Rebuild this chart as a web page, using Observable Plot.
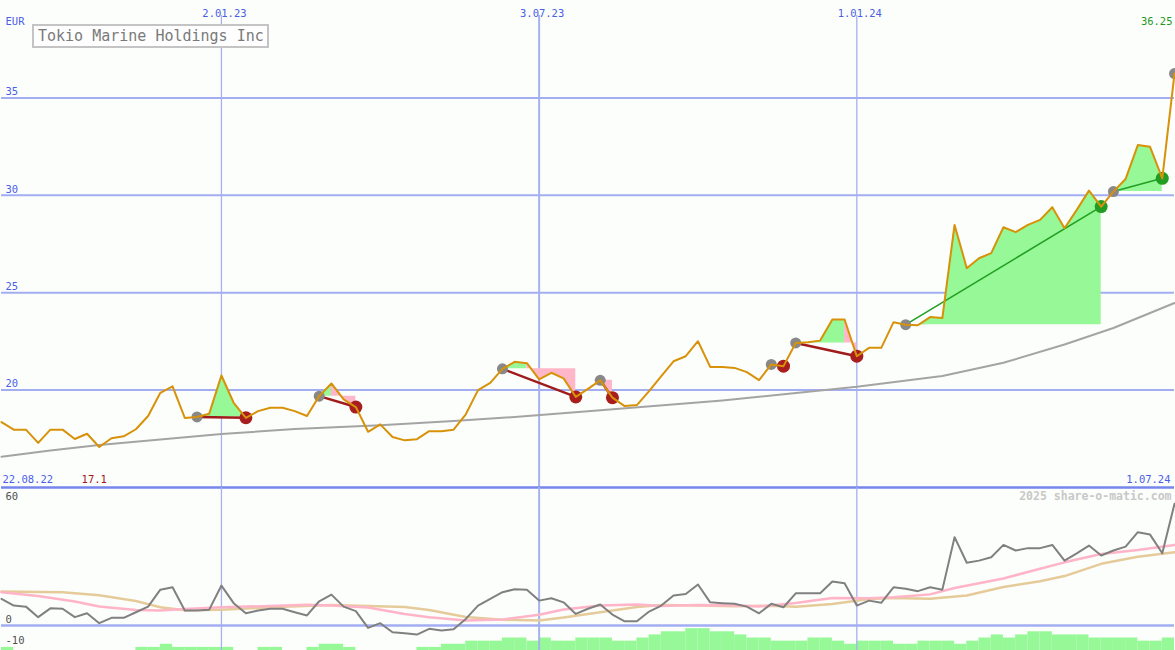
<!DOCTYPE html>
<html><head><meta charset="utf-8">
<script src="https://cdn.jsdelivr.net/npm/d3@7"></script>
<script src="https://cdn.jsdelivr.net/npm/@observablehq/plot@0.6"></script>
<style>
html,body{margin:0;padding:0;background:#fcfefc;}
#chart{position:relative;width:1175px;height:650px;overflow:hidden;background:#fcfefc;}
#chart svg{position:absolute;left:0;overflow:visible;background:transparent;}
#title{position:absolute;left:32px;top:24px;width:237px;height:24px;box-sizing:border-box;border:2px solid #c4c4c4;background:#fdfefd;color:#7a7a7a;font:15px "DejaVu Sans Mono",monospace;line-height:20px;padding-left:4px;white-space:nowrap;}
</style></head><body><div id="chart"></div><script>
// ---- data ----
const titleText = "Tokio Marine Holdings Inc";
const currency = "EUR";
const firstDate = "2022-08-29";
const lastDate = "2024-07-02";
const startLabel = "22.08.22";
const endLabel = "1.07.24";
const gridDates = ["2023-01-02", "2023-07-03", "2024-01-01"];
const gridLabels = ["2.01.23", "3.07.23", "1.01.24"];
const priceTicks = [20, 25, 30, 35];
const lowerTicks = [60, 0, -10];
const lowerTickShift = [0, -6, -6];

// weekly close
const price = [
  18.36, 17.97, 17.97, 17.29, 17.97, 17.97, 17.49, 17.76, 17.08, 17.53,
  17.63, 17.99, 18.67, 19.86, 20.19, 18.57, 18.62, 18.79, 20.75, 19.35,
  18.58, 18.92, 19.09, 19.09, 18.92, 18.67, 19.69, 20.34, 19.52, 19.13,
  17.86, 18.24, 17.59, 17.42, 17.48, 17.89, 17.89, 17.97, 18.76, 20.0,
  20.37, 21.09, 21.45, 21.38, 20.55, 20.89, 20.6, 19.65, 20.06, 20.5,
  19.61, 19.18, 19.23, 19.95, 20.72, 21.48, 21.74, 22.51, 21.19, 21.18,
  21.14, 20.92, 20.51, 21.32, 21.23, 22.42, 22.46, 22.54, 23.62, 23.62,
  21.74, 22.17, 22.17, 23.48, 23.36, 23.33, 23.75, 23.70, 28.48, 26.26,
  26.77, 27.03, 28.36, 28.11, 28.48, 28.74, 29.39, 28.31, 29.25, 30.24,
  29.42, 30.19, 30.84, 32.58, 32.49, 30.87, 36.25
];
// long moving average (week index, value)
const maWeek  = [0, 4, 8, 18, 24, 31, 37, 42, 48, 59, 70, 77, 82, 87, 91, 96];
const maValue = [16.58, 16.9, 17.18, 17.75, 18.0, 18.19, 18.41, 18.62, 18.92, 19.47, 20.17, 20.72, 21.4, 22.34, 23.19, 24.47];

// signals (week indices)
const sigStart = [16, 26, 41, 49, 63, 65, 74, 91];
const sigTurn  = [20, 27, 43, 49, 63, 69, 90, 95];
const sigEnd   = [20, 29, 47, 50, 64, 70, 90, 95];
const openSignal = [96];

// lower panel oscillator
const oscillator = [
  12.4, 9.3, 8.8, 3.9, 8.0, 7.8, 3.9, 5.7, 1.1, 3.6,
  3.6, 6.2, 8.8, 16.7, 17.8, 7.0, 7.0, 7.4, 18.6, 10.4,
  5.7, 7.0, 7.8, 7.8, 6.2, 4.7, 11.3, 14.4, 8.8, 6.7,
  -1.1, 1.1, -3.1, -3.6, -4.2, -1.5, -2.3, -1.7, 3.1, 9.3,
  12.4, 15.5, 16.9, 16.6, 11.6, 12.7, 10.8, 5.4, 7.8, 9.8,
  5.1, 2.0, 2.0, 6.5, 9.3, 14.0, 14.7, 19.1, 10.8, 10.4,
  10.1, 8.8, 5.7, 10.1, 8.5, 15.0, 15.0, 15.0, 20.5, 19.7,
  9.3, 11.6, 10.6, 17.8, 17.1, 16.0, 17.8, 16.7, 41.1, 29.2,
  30.2, 31.8, 37.5, 34.9, 36.0, 36.0, 37.5, 30.2, 33.6, 37.2,
  32.6, 34.9, 36.7, 43.4, 42.3, 33.6, 56.6
];
const pinkWeek  = [0, 3, 6, 8, 11, 13, 15, 18, 22, 25, 27, 30, 33, 35, 38, 41, 44, 46, 49, 52, 54, 57, 60, 62, 65, 68, 71, 73, 76, 78, 82, 85, 87, 90, 93, 96];
const pinkValue = [15.5, 13.7, 11.2, 8.9, 7.2, 7.0, 7.7, 8.5, 9.1, 9.7, 9.3, 8.4, 5.4, 3.9, 2.3, 2.8, 5.0, 7.5, 9.3, 9.8, 9.1, 9.6, 9.3, 8.9, 10.5, 12.8, 12.7, 13.2, 14.5, 17.5, 21.9, 26.4, 29.4, 33.3, 35.1, 37.5];
const tanWeek  = [0, 5, 8, 11, 13, 15, 18, 22, 27, 33, 35, 38, 41, 44, 46, 49, 52, 54, 57, 60, 63, 65, 68, 71, 73, 76, 79, 82, 85, 87, 90, 93, 96];
const tanValue = [15.8, 15.5, 14.1, 11.4, 8.5, 7.1, 7.3, 8.5, 9.6, 8.6, 7.2, 4.0, 2.7, 2.4, 3.7, 6.2, 8.6, 9.6, 9.3, 9.0, 9.2, 8.8, 10.0, 12.4, 12.8, 12.5, 14.0, 17.9, 20.6, 23.0, 28.7, 32.0, 34.1];
// volume-style bars (level per week, bar spans week i .. i+1)
const volumeLevel = [
  1, 0, 0, 0, 0, 0, 0, 0, 0, 0,
  0, 1, 1, 2, 1, 1, 1, 1, 1, 0,
  0, 1, 1, 0, 0, 1, 2, 2, 1, 0,
  0, 0, 0, 0, 1, 1, 2, 2, 3, 3,
  3, 4, 4, 3, 4, 3, 3, 4, 4, 4,
  3, 3, 4, 5, 6, 6, 7, 7, 6, 6,
  5, 4, 4, 3, 3, 3, 4, 4, 3, 2,
  3, 3, 3, 2, 2, 3, 3, 3, 2, 3,
  4, 5, 4, 5, 6, 6, 5, 5, 5, 4,
  4, 4, 4, 3, 3, 4
];

// ---- build ----
const dates = d3.utcMonday.range(new Date(firstDate), new Date(lastDate));
const X = {type: "utc", domain: [dates[0], dates[dates.length - 1]]};
const font = "DejaVu Sans Mono";
const blue = "#4a5ee8";
const priceRows = dates.map((d, i) => ({date: d, v: price[i]}));
const maRows = maWeek.map((w, k) => ({date: dates[w], v: maValue[k]}));

const greenRows = [], pinkRows = [], lossLinks = [], winLinks = [], startDots = [], endDots = [];
sigStart.forEach((s, k) => {
  const t = sigTurn[k], e = sigEnd[k], base = price[s];
  const win = price[e] > base;
  for (let i = s; i <= t; i++) {
    greenRows.push({sig: "g" + k, date: dates[i], base, v: Math.max(price[i], base)});
    pinkRows.push({sig: "a" + k, date: dates[i], base, v: Math.min(price[i], base)});
  }
  if (e > t) for (let i = t; i <= e; i++) pinkRows.push({sig: "b" + k, date: dates[i], base, v: price[i]});
  (win ? winLinks : lossLinks).push({sig: k, date: dates[s], v: base}, {sig: k, date: dates[e], v: price[e]});
  startDots.push({date: dates[s], v: base});
  endDots.push({date: dates[e], v: price[e], win});
});
openSignal.forEach(i => startDots.push({date: dates[i], v: price[i]}));

const gridRows = gridDates.map((d, k) => ({date: new Date(d), label: gridLabels[k], w: k === 1 ? 2 : 1.3}));
const minIdx = d3.minIndex(price);

const main = Plot.plot({
  width: 1175, height: 487,
  marginTop: 0, marginBottom: 0, marginLeft: 1, marginRight: 1,
  x: {...X, axis: null},
  y: {domain: [15, 40], axis: null},
  style: {background: "transparent", overflow: "visible"},
  marks: [
    Plot.ruleY(priceTicks, {stroke: "#a3aef2", strokeWidth: 2}),
    ...gridRows.map(g => Plot.ruleX([g.date], {stroke: "#a6b1ef", strokeWidth: g.w, insetTop: 15})),
    Plot.ruleY([15], {stroke: "#7686ec", strokeWidth: 2.5}),
    Plot.line(maRows, {x: "date", y: "v", stroke: "#a4a4a4", strokeWidth: 2}),
    Plot.areaY(greenRows, {x: "date", y1: "base", y2: "v", z: "sig", fill: "#96f896", curve: "linear"}),
    Plot.areaY(pinkRows, {x: "date", y1: "base", y2: "v", z: "sig", fill: "#ffb6c8", curve: "linear"}),
    Plot.line(lossLinks, {x: "date", y: "v", z: "sig", stroke: "#a01c1c", strokeWidth: 2.5}),
    Plot.line(winLinks, {x: "date", y: "v", z: "sig", stroke: "#22a022", strokeWidth: 1.6}),
    Plot.dot(startDots, {x: "date", y: "v", r: 5.5, fill: "#888888"}),
    Plot.dot(endDots, {x: "date", y: "v", r: 6.5, fill: d => d.win ? "#229c22" : "#a81e1e"}),
    Plot.line(priceRows, {x: "date", y: "v", stroke: "#d8920a", strokeWidth: 2}),
    Plot.text(gridRows, {x: "date", text: "label", frameAnchor: "top", dy: 9, dx: 3, fill: blue, fontSize: 10.5, fontFamily: font}),
    Plot.text([currency], {frameAnchor: "top-left", lineAnchor: "middle", dx: 4, dy: 21, fill: blue, fontSize: 10.5, fontFamily: font}),
    Plot.text([price[price.length - 1].toFixed(2)], {frameAnchor: "top-right", lineAnchor: "middle", dx: -2, dy: 21, fill: "#1f9a1f", fontSize: 10.5, fontFamily: font}),
    Plot.text(priceTicks, {y: d => d, text: d => String(d), frameAnchor: "left", textAnchor: "start", dx: 4, dy: -6, fill: blue, fontSize: 10.5, fontFamily: font}),
    Plot.text([startLabel], {frameAnchor: "bottom-left", lineAnchor: "middle", dx: 1, dy: -8, fill: blue, fontSize: 10.5, fontFamily: font}),
    Plot.text([endLabel], {frameAnchor: "bottom-right", lineAnchor: "middle", dx: -4, dy: -8, fill: blue, fontSize: 10.5, fontFamily: font}),
    Plot.text([dates[minIdx]], {x: d => d, text: () => price[minIdx].toFixed(1), frameAnchor: "bottom", lineAnchor: "middle", dx: -5, dy: -8, fill: "#a01818", fontSize: 10.5, fontFamily: font})
  ]
});

const yMin = -11.6, yMax = 64.2;
const volRows = volumeLevel.map((l, i) => ({d0: dates[i], d1: dates[i + 1], level: l})).filter(d => d.level > 0);
const oscRows = dates.map((d, i) => ({date: d, v: oscillator[i]}));
const pinkRows2 = pinkWeek.map((w, k) => ({date: dates[w], v: pinkValue[k]}));
const tanRows = tanWeek.map((w, k) => ({date: dates[w], v: tanValue[k]}));

const lower = Plot.plot({
  width: 1175, height: 163,
  marginTop: 0, marginBottom: 0, marginLeft: 1, marginRight: 1,
  x: {...X, axis: null},
  y: {domain: [yMin, yMax], axis: null},
  style: {background: "transparent", overflow: "visible"},
  marks: [
    Plot.rect(volRows, {x1: "d0", x2: "d1", y1: yMin, y2: d => yMin + d.level * 1.45, fill: "#96f896"}),
    ...gridRows.map(g => Plot.ruleX([g.date], {stroke: "#a6b1ef", strokeWidth: g.w})),
    Plot.ruleY([0], {stroke: "#a3aef2", strokeWidth: 2.5}),
    Plot.line(tanRows, {x: "date", y: "v", stroke: "#e6cb9a", strokeWidth: 2.5}),
    Plot.line(pinkRows2, {x: "date", y: "v", stroke: "#ffb4c8", strokeWidth: 2.5}),
    Plot.line(oscRows, {x: "date", y: "v", stroke: "#808080", strokeWidth: 2}),
    ...lowerTicks.map((v, k) => Plot.text([v], {y: d => d, text: d => String(d), frameAnchor: "left", textAnchor: "start", dx: 4, dy: lowerTickShift[k], fill: "#505050", fontSize: 10.5, fontFamily: font})),
    Plot.text(["2025 share-o-matic.com"], {frameAnchor: "top-right", lineAnchor: "middle", dx: -3, dy: 9, fill: "#c8c8c8", fontSize: 11.5, fontWeight: "bold", fontFamily: font})
  ]
});

const chart = document.getElementById("chart");
main.style.top = "0px";
lower.style.top = "487px";
chart.appendChild(main);
chart.appendChild(lower);
const t = document.createElement("div");
t.id = "title";
t.textContent = titleText;
chart.appendChild(t);
</script></body></html>
